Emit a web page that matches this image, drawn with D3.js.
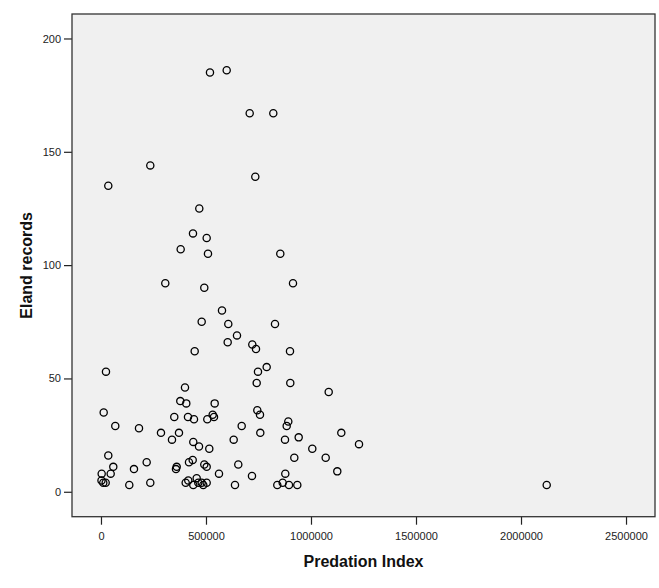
<!DOCTYPE html>
<html>
<head>
<meta charset="utf-8">
<script src="https://cdn.jsdelivr.net/npm/d3@7"></script>
<style>
  html, body { margin: 0; padding: 0; background: #ffffff; }
  svg { display: block; font-family: "Liberation Sans", Arial, sans-serif; }
</style>
</head>
<body>
<svg id="chart" width="659" height="588"></svg>
<script>
// Data
const predationIndex = [
  519000, 598600, 708100, 820500, 234800, 34800, 734800, 468100, 438100, 503300,
  379500, 509500, 853800, 306200, 491900, 914300, 576200, 479500, 606200, 828600,
  647600, 603300, 720500, 738100, 446200, 900000, 23800, 789000, 747600, 400000,
  741400, 901400, 1084300, 377600, 406200, 541400, 12900, 744300, 757100, 68100,
  181000, 349000, 414300, 442900, 506200, 531900, 538100, 670000, 891900, 884300,
  758600, 1144300, 1228600, 285700, 371400, 338100, 439500, 466700, 515700, 631900,
  876200, 941400, 1006200, 1070000, 920500, 1125200, 34800, 58600, 46200, 3300,
  2400, 11000, 22400, 157100, 217600, 134800, 234800, 360500, 357100, 419000,
  436700, 491900, 503300, 561900, 653800, 719000, 877600, 403300, 415700, 439500,
  455700, 463300, 479500, 487100, 503300, 638100, 839500, 865200, 895200, 934800,
  2122400
];
const elandRecords = [
  185, 186, 167, 167, 144, 135, 139, 125, 114, 112,
  107, 105, 105, 92, 90, 92, 80, 75, 74, 74,
  69, 66, 65, 63, 62, 62, 53, 55, 53, 46,
  48, 48, 44, 40, 39, 39, 35, 36, 34, 29,
  28, 33, 33, 32, 32, 34, 33, 29, 31, 29,
  26, 26, 21, 26, 26, 23, 22, 20, 19, 23,
  23, 24, 19, 15, 15, 9, 16, 11, 8, 8,
  5, 4, 4, 10, 13, 3, 4, 11, 10, 13,
  14, 12, 11, 8, 12, 7, 8, 4, 5, 3,
  6, 4, 4, 3, 4, 3, 3, 4, 3, 3,
  3
];
const xTicks = [0, 500000, 1000000, 1500000, 2000000, 2500000];
const yTicks = [0, 50, 100, 150, 200];
const xTitle = "Predation Index";
const yTitle = "Eland records";

const svg = d3.select("#chart");
const pLeft = 72, pRight = 655, pTop = 14, pBottom = 516.7;

const x = d3.scaleLinear().domain([-138000, 2638000]).range([pLeft, pRight]);
const y = d3.scaleLinear().domain([-11, 210.8]).range([pBottom, pTop]);

// plot background
svg.append("rect")
  .attr("x", pLeft).attr("y", pTop)
  .attr("width", pRight - pLeft).attr("height", pBottom - pTop)
  .attr("fill", "#f0f0f0");

// axes
const xAxis = svg.append("g")
  .attr("transform", `translate(0,${pBottom})`)
  .call(d3.axisBottom(x).tickValues(xTicks).tickFormat(d3.format("d")).tickSize(8).tickPadding(8));
const yAxis = svg.append("g")
  .attr("transform", `translate(${pLeft},0)`)
  .call(d3.axisLeft(y).tickValues(yTicks).tickFormat(d3.format("d")).tickSize(8).tickPadding(3));

[xAxis, yAxis].forEach(g => {
  g.select(".domain").remove();
  g.selectAll(".tick line").attr("stroke", "#222").attr("stroke-width", 1.2);
  g.selectAll(".tick text")
    .attr("fill", "#222")
    .style("font-size", "11px")
    .style("font-family", "'Liberation Sans', Arial, sans-serif");
});

// frame
svg.append("rect")
  .attr("x", pLeft).attr("y", pTop)
  .attr("width", pRight - pLeft).attr("height", pBottom - pTop)
  .attr("fill", "none")
  .attr("stroke", "#333")
  .attr("stroke-width", 1.3);

// points
const pts = predationIndex.map((v, i) => ({ px: v, ey: elandRecords[i] }));
svg.append("g")
  .selectAll("circle")
  .data(pts)
  .join("circle")
  .attr("cx", d => x(d.px))
  .attr("cy", d => y(d.ey))
  .attr("r", 3.6)
  .attr("fill", "none")
  .attr("stroke", "#000")
  .attr("stroke-width", 1.3);

// titles
svg.append("text")
  .attr("x", (pLeft + pRight) / 2)
  .attr("y", 567)
  .attr("text-anchor", "middle")
  .style("font-size", "16px")
  .style("font-weight", "bold")
  .attr("fill", "#111")
  .text(xTitle);

svg.append("text")
  .attr("transform", `translate(32,${(pTop + pBottom) / 2}) rotate(-90)`)
  .attr("text-anchor", "middle")
  .style("font-size", "16px")
  .style("font-weight", "bold")
  .attr("fill", "#111")
  .text(yTitle);
</script>
</body>
</html>
